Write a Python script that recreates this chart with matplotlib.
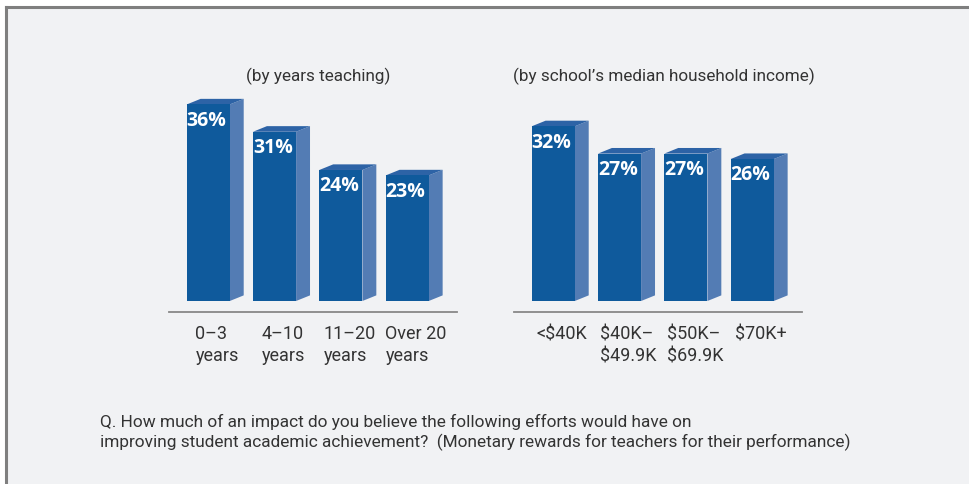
import matplotlib
matplotlib.use("Agg")
import matplotlib.pyplot as plt
from matplotlib.patches import Polygon, Rectangle
from matplotlib.lines import Line2D

# data
years_labels = ["0\u20133\nyears", "4\u201310\nyears", "11\u201320\nyears", "Over 20\nyears"]
years_values = [36, 31, 24, 23]
income_labels = ["<$40K", "$40K\u2013\n$49.9K", "$50K\u2013\n$69.9K", "$70K+"]
income_values = [32, 27, 27, 26]

title_years = "(by years teaching)"
title_income = "(by school\u2019s median household income)"
question = ("Q. How much of an impact do you believe the following efforts would have on\n"
            "improving student academic achievement?  (Monetary rewards for teachers for their performance)")

# styles
FRONT = "#0f5a9c"
SIDE = "#537cb4"
TOP = "#2d63a6"
BG = "#f1f2f4"
TXT = "#333333"
W, H = 969, 485
bar_w = 0.65
dx, dy = 0.21, 1.03   # depth of the 3D faces (data units)

fig = plt.figure(figsize=(W / 100, H / 100), dpi=100, facecolor="white")

# panel background + border (top and left only)
fig.add_artist(Rectangle((6 / W, 0), 1, 1 - 8 / H, transform=fig.transFigure,
                         facecolor=BG, edgecolor="none", zorder=0))
fig.add_artist(Line2D([6 / W, 6 / W], [0, 1 - 8 / H], transform=fig.transFigure,
                      color="#7f7f7f", lw=2.2, zorder=1))
fig.add_artist(Line2D([6 / W, 1], [1 - 8 / H, 1 - 8 / H], transform=fig.transFigure,
                      color="#7f7f7f", lw=2.2, zorder=1))


def draw_group(left_px, labels, values, title):
    ax = fig.add_axes([left_px / W, (H - 312.7) / H, 287.4 / W, 223.6 / H])
    ax.set_facecolor("none")
    ax.set_xlim(-0.262, 4.072)
    ax.set_ylim(-1.96, 39)
    xs = list(range(len(values)))
    ax.bar(xs, values, width=bar_w, align="edge", color=FRONT, zorder=3)
    for x, v in zip(xs, values):
        side = [(x + bar_w, 0), (x + bar_w + dx, dy), (x + bar_w + dx, v + dy), (x + bar_w, v)]
        top = [(x, v), (x + dx, v + dy), (x + bar_w + dx, v + dy), (x + bar_w, v)]
        ax.add_patch(Polygon(side, closed=True, facecolor=SIDE, edgecolor="none", zorder=2))
        ax.add_patch(Polygon(top, closed=True, facecolor=TOP, edgecolor="none", zorder=2))
        ax.text(x, v - 3.7, f"{v}%", color="white", fontsize=14, fontweight="bold",
                family="Open Sans", ha="left", va="baseline", zorder=4)
    for s in ["top", "right", "left"]:
        ax.spines[s].set_visible(False)
    ax.spines["bottom"].set_color("#888888")
    ax.spines["bottom"].set_linewidth(1.3)
    ax.set_yticks([])
    ax.set_xticks([x + (bar_w + dx) / 2 + 0.03 for x in xs])
    ax.set_xticklabels(labels, fontsize=13, family="Roboto", color=TXT, linespacing=1.3)
    ax.tick_params(axis="x", length=0, pad=9)
    for t in ax.get_xticklabels():
        t.set_multialignment("left")
    ax.annotate(title, xy=(0.5, 1), xycoords="axes fraction", xytext=(4, 6),
                textcoords="offset points", ha="center", va="baseline",
                fontsize=12.3, family="Roboto", color=TXT)
    return ax


draw_group(169.3, years_labels, years_values, title_years)
draw_group(514.3, income_labels, income_values, title_income)

fig.text(100 / W, 1 - 414 / H, question, ha="left", va="top", fontsize=12.4,
         family="Roboto", color=TXT, linespacing=1.3)

fig.savefig("out.png", dpi=100, facecolor=fig.get_facecolor())
